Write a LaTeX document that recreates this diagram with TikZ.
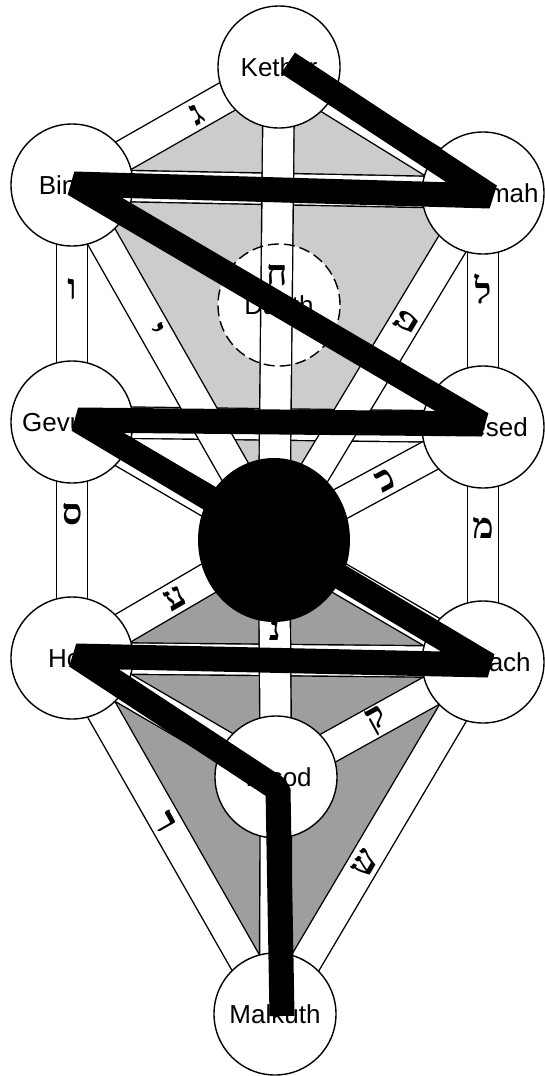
\documentclass[tikz,border=0pt]{standalone}
\usepackage{fontspec}
\setmainfont{Liberation Sans}
\newfontfamily\hebfont[Script=Hebrew]{Liberation Serif}
\usetikzlibrary{shapes.geometric}
\pgfdeclarelayer{shade}
\pgfdeclarelayer{chan}
\pgfdeclarelayer{fg}
\pgfsetlayers{shade,chan,main,fg}
\begin{document}
\begin{tikzpicture}[x=1pt,y=-1pt,
  sef/.style={circle, draw=black, fill=white, line width=1.4pt, minimum size=122pt, inner sep=0pt, font=\fontsize{26}{30}\selectfont},
  chan/.style={draw=black, line width=1.4pt, double=white, double distance=30pt},
  lettv/.style={font=\hebfont\bfseries\fontsize{36}{36}\selectfont, inner sep=0pt},
  lett/.style={lettv, sloped},
  flash/.style={draw=black, line width=25pt, line join=bevel},
  upshade/.style={fill=black!20},
  loshade/.style={fill=black!38}]

\useasboundingbox (0,0) rectangle (545,1076);

% sefirot
\node[sef] (keter)   at (279,67)  {Kether};
\node[sef] (chokmah) at (483,193) {Chokmah};
\node[sef] (binah)   at (72,185)  {Binah};
\node[sef, fill=none, dash pattern=on 11pt off 5pt] (daath) at (279,305) {Daath};
\node[sef] (chesed)  at (483,427) {Chesed};
\node[sef] (gevurah) at (72,422)  {Gevurah};
\node[ellipse, fill=black, minimum width=152pt, minimum height=164pt, inner sep=0pt] (tiferet) at (274,540) {};
\node[sef] (netzach) at (483,662) {Netzach};
\node[sef] (hod)     at (72,658)  {Hod};
\node[sef] (yesod)   at (276,777) {Yesod};
\node[sef] (malkuth) at (275,1014) {Malkuth};

% shaded triangles
\begin{pgfonlayer}{shade}
  \fill[white] (0,0) rectangle (545,1076);
  \path[upshade] (keter.center) -- (binah.center) -- (chokmah.center) -- cycle;
  \path[upshade] (binah.center) -- (chokmah.center) -- (tiferet.center) -- cycle;
  \path[loshade] (hod.center) -- (netzach.center) -- (tiferet.center) -- cycle;
  \path[loshade] (hod.center) -- (netzach.center) -- (malkuth.center) -- cycle;
  \fill[white] (daath.center) circle (61pt);
\end{pgfonlayer}

% channels (paths)
\begin{pgfonlayer}{chan}
  \draw[chan] (binah.center) -- node[lettv, pos=0.44]{ו} (gevurah.center);
  \draw[chan] (gevurah.center) -- node[lettv, pos=0.39]{ס} (hod.center);
  \draw[chan] (chokmah.center) -- node[lettv, pos=0.41]{ל} (chesed.center);
  \draw[chan] (chesed.center) -- node[lettv, pos=0.43]{מ} (netzach.center);
  \draw[chan] (binah.center) -- (chokmah.center);
  \draw[chan] (gevurah.center) -- (chesed.center);
  \draw[chan] (hod.center) -- (netzach.center);
  \draw[chan] (keter.center) -- node[lett, pos=0.40]{ג} (binah.center);
  \draw[chan] (keter.center) -- (chokmah.center);
  \draw[chan] (binah.center) -- node[lett, pos=0.41]{י} (tiferet.center);
  \draw[chan] (chokmah.center) -- node[lett, pos=0.37]{ט} (tiferet.center);
  \draw[chan] (gevurah.center) -- (tiferet.center);
  \draw[chan] (chesed.center) -- node[lett, pos=0.47]{כ} (tiferet.center);
  \draw[chan] (tiferet.center) -- node[lett, pos=0.49]{ע} (hod.center);
  \draw[chan] (tiferet.center) -- (netzach.center);
  \draw[chan] (hod.center) -- (yesod.center);
  \draw[chan] (netzach.center) -- node[lett, pos=0.51]{ק} (yesod.center);
  \draw[chan] (hod.center) -- node[lett, pos=0.46]{ר} (malkuth.center);
  \draw[chan] (netzach.center) -- node[lett, pos=0.57]{ש} (malkuth.center);
  \draw[chan] (keter.center) -- node[lettv, pos=0.44]{ח} (tiferet.center);
  \draw[chan] (tiferet.center) -- node[lettv, pos=0.38]{נ} (yesod.center);
  \draw[chan] (yesod.center) -- (malkuth.center);
\end{pgfonlayer}

% lightning flash
\coordinate (f1) at (288,63);
\coordinate (f2) at (490,196);
\coordinate (f3) at (74,184);
\coordinate (f4) at (482,424);
\coordinate (f5) at (78,420);
\coordinate (f6) at (488,665);
\coordinate (f7) at (76,656);
\coordinate (f8) at (278,789);
\coordinate (f9) at (282,1016);
\begin{pgfonlayer}{fg}
  \draw[flash] (f1) -- (f2) -- (f3) -- (f4) -- (f5) -- (f6) -- (f7) -- (f8) -- (f9);
\end{pgfonlayer}
\end{tikzpicture}
\end{document}
